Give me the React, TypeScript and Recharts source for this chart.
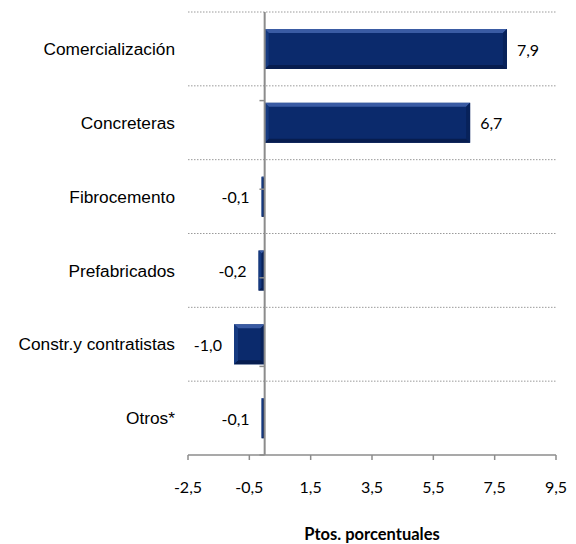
import React from 'react';
import {
  BarChart, Bar, XAxis, YAxis, CartesianGrid, ReferenceLine, LabelList,
} from 'recharts';

const categories = [
  'Comercialización',
  'Concreteras',
  'Fibrocemento',
  'Prefabricados',
  'Constr.y contratistas',
  'Otros*',
];
const values = [7.9, 6.7, -0.1, -0.2, -1.0, -0.1];
const xTicks = [-2.5, -0.5, 1.5, 3.5, 5.5, 7.5, 9.5];
const boundaries = [1, 2, 3, 4, 5, 6];

const data = categories.map((name, i) => ({ name, value: values[i] }));

const fmt = (v: number) => v.toFixed(1).replace('.', ',');

const BevelBar = (props: any) => {
  const { x, y, width, height } = props;
  const left = Math.min(x, x + width);
  const w = Math.abs(width);
  const top = Math.min(y, y + height);
  const h = Math.abs(height);
  if (w <= 0 || h <= 0) return null;
  const b = Math.min(4, w / 2, h / 2);
  return (
    <g>
      <rect x={left} y={top} width={w} height={h} fill="#0b2a6c" />
      <polygon points={`${left},${top} ${left + w},${top} ${left + w - b},${top + b} ${left + b},${top + b}`} fill="#3a5ba3" />
      <polygon points={`${left},${top + h} ${left + w},${top + h} ${left + w - b},${top + h - b} ${left + b},${top + h - b}`} fill="#071d4f" />
      <polygon points={`${left},${top} ${left + b},${top + b} ${left + b},${top + h - b} ${left},${top + h}`} fill="#163a80" />
      <polygon points={`${left + w},${top} ${left + w - b},${top + b} ${left + w - b},${top + h - b} ${left + w},${top + h}`} fill="#08225a" />
    </g>
  );
};

const ValueLabel = (props: any) => {
  const { x, y, width, height, value } = props;
  const left = Math.min(x, x + width);
  const right = Math.max(x, x + width);
  const cy = y + height / 2;
  const neg = value < 0;
  return (
    <text
      x={neg ? left - 12 : right + 10}
      y={cy}
      textAnchor={neg ? 'end' : 'start'}
      dominantBaseline="central"
      fontFamily="Lato, 'Open Sans', sans-serif"
      fontSize={16}
      fill="#000"
    >
      {fmt(value)}
    </text>
  );
};

export default function App() {
  return (
    <div style={{ position: 'absolute', left: 0, top: 0, background: '#fff' }}>
      <BarChart
        width={576}
        height={544}
        data={data}
        layout="vertical"
        margin={{ top: 12, right: 20, left: 0, bottom: 0 }}
      >
        <CartesianGrid
          vertical={false}
          stroke="#9a9a9a"
          strokeDasharray="1.5 1.5"
          horizontalCoordinatesGenerator={(p: any) => {
            const { offset } = p;
            const out: number[] = [];
            for (let i = 0; i < categories.length; i++) {
              out.push(offset.top + (i * offset.height) / categories.length);
            }
            return out;
          }}
        />
        <XAxis
          type="number"
          domain={[-2.5, 9.5]}
          ticks={xTicks}
          interval={0}
          tickFormatter={fmt}
          height={89}
          axisLine={{ stroke: '#8c8c8c', strokeWidth: 1.5 }}
          tickLine={{ stroke: '#8c8c8c', strokeWidth: 1.5 }}
          tickSize={5}
          tickMargin={22}
          tick={{ fontFamily: "Lato, 'Open Sans', sans-serif", fontSize: 16, fill: '#000' }}
          label={{
            value: 'Ptos. porcentuales',
            position: 'insideBottom',
            offset: 4,
            style: { fontFamily: "Lato, 'Open Sans', sans-serif", fontSize: 16.5, fontWeight: 'bold', fill: '#000' },
          }}
        />
        <YAxis
          type="category"
          dataKey="name"
          width={188}
          axisLine={false}
          tickLine={false}
          tickSize={0}
          tickMargin={13}
          interval={0}
          tick={{ fontFamily: "'Liberation Sans', Arial, sans-serif", fontSize: 17.3, fill: '#000' }}
        />
        <YAxis yAxisId="bands" type="number" domain={[0, 6]} hide />
        <Bar dataKey="value" barSize={40} shape={<BevelBar />} isAnimationActive={false}>
          <LabelList dataKey="value" content={<ValueLabel />} />
        </Bar>
        <ReferenceLine x={0} stroke="#8c8c8c" strokeWidth={2} />
        {boundaries.map((b) => (
          <ReferenceLine
            key={b}
            yAxisId="bands"
            segment={[{ x: -0.17, y: b }, { x: 0, y: b }]}
            stroke="#8c8c8c"
            strokeWidth={1.5}
          />
        ))}
      </BarChart>
    </div>
  );
}
